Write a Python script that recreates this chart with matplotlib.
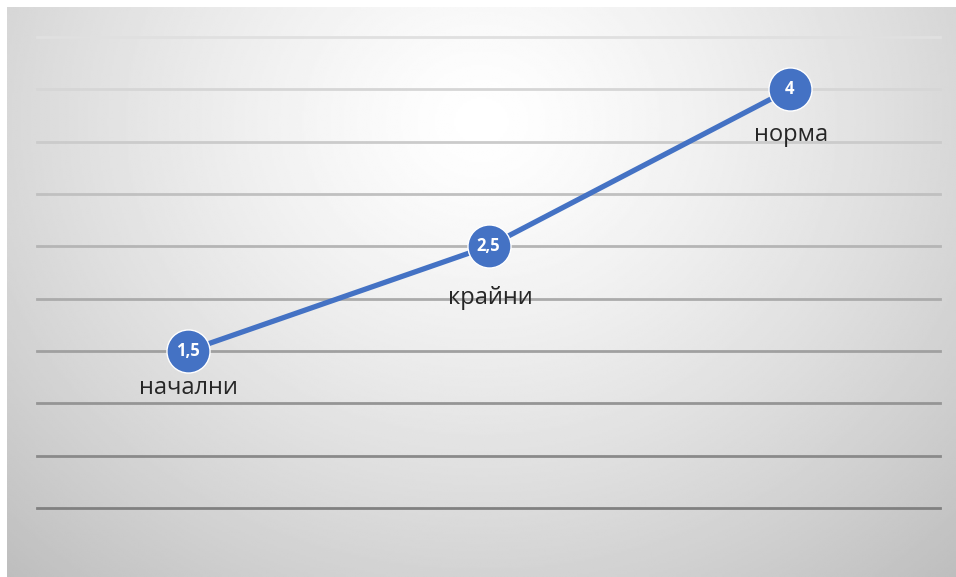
import numpy as np
import matplotlib
matplotlib.use("Agg")
import matplotlib.pyplot as plt

categories = ["начални", "крайни", "норма"]
values = [1.5, 2.5, 4]
value_labels = ["1,5", "2,5", "4"]
y_ticks = [0, 0.5, 1, 1.5, 2, 2.5, 3, 3.5, 4, 4.5]

plt.rcParams['font.family'] = ['Open Sans', 'DejaVu Sans']

W, H = 956, 577
fig = plt.figure(figsize=(W / 100, H / 100), dpi=100)

# gradient background panel
bg = fig.add_axes([7 / W, 0, (W - 7) / W, (H - 7) / H])
bg.set_axis_off()
yy, xx = np.mgrid[0:1:300j, 0:1:500j]
r = np.sqrt(((xx - 0.5) / 0.75) ** 2 + ((yy - 0.2) / 1.1) ** 2)
shade = 1.0 - 0.26 * np.clip(r, 0, 1) ** 1.3
bg.imshow(shade, cmap="gray", vmin=0, vmax=1, aspect="auto",
          extent=[0, 1, 1, 0], interpolation="bilinear")
bg.set_xlim(0, 1)
bg.set_ylim(1, 0)

left, right = 37 / W, 940 / W
bottom, top = (H - 508) / H, (H - 37) / H
ax = fig.add_axes([left, bottom, right - left, top - bottom])
ax.set_facecolor("none")
for s in ax.spines.values():
    s.set_visible(False)
ax.set_xlim(-0.5, 2.5)
ax.set_ylim(0, 4.5)
ax.set_xticks([])
ax.set_yticks([])

# gridlines, darker toward bottom
for yt in y_ticks:
    f = yt / 4.5
    c = 0.50 + 0.38 * f
    ax.axhline(yt, color=(c, c, c), lw=2.0, zorder=1, clip_on=False)

x = np.arange(len(categories))
ax.plot(x, values, color="#4472C4", lw=3.8, zorder=3, solid_capstyle="round")
ax.plot(x, values, "o", ms=31, color="#4472C4", mec="white", mew=1.0, zorder=4)

label_drop = [27, 37, 33]
for xi, v, vl, cat, d in zip(x, values, value_labels, categories, label_drop):
    ax.text(xi, v, vl, ha="center", va="center", color="white",
            fontsize=12, fontweight="bold", zorder=5)
    ax.annotate(cat, (xi, v), xytext=(1, -d), textcoords="offset points",
                ha="center", va="center", fontsize=17, color="#262626", zorder=5)

fig.savefig("out.png", dpi=100)
